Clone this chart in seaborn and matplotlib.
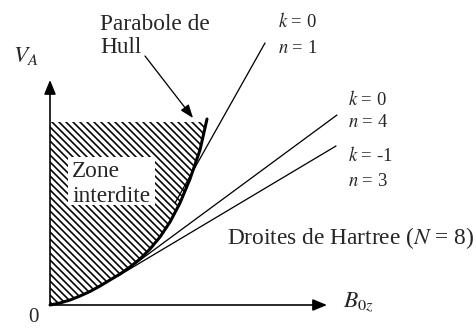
import numpy as np
import matplotlib
matplotlib.use("Agg")
import matplotlib.pyplot as plt
import seaborn as sns

# Hull parabola V_A(B_0z), arbitrary units
hull_b = [0, 10, 20, 30, 40, 50, 60, 70, 80, 90, 100, 110, 120, 130, 140, 150, 157]
hull_v = [0, 2, 5, 9, 13.5, 19, 25, 31, 38, 46, 56, 68, 83, 102, 126, 155, 186]

# Hartree lines (N = 8): start on the parabola, end at the label
hartree_k = ["0", "0", "-1"]
hartree_n = ["1", "4", "3"]
hartree_b_start = [125, 78, 68]
hartree_v_start = [102, 36, 29]
hartree_b_end = [215, 287, 286]
hartree_v_end = [262, 190, 159]

# upper edge of the forbidden zone
forbidden_top = 183
b_axis_end = 277
v_axis_end = 225

sns.set_theme(style="white")
plt.rcParams["font.family"] = ["Liberation Serif", "DejaVu Serif"]
plt.rcParams["mathtext.fontset"] = "stix"
plt.rcParams["hatch.linewidth"] = 1.4
plt.rcParams["hatch.color"] = "black"

fig = plt.figure(figsize=(476 / 84, 330 / 84), dpi=84)
ax = fig.add_axes([0, 0, 1, 1])
ax.set_xlim(-50, 426)
ax.set_ylim(-25, 305)
ax.axis("off")

# forbidden zone, hatched between the V axis and the parabola
hb = np.array(hull_b, dtype=float)
hv = np.array(hull_v, dtype=float)
b_top = np.interp(forbidden_top, hv, hb)
keep = hv < forbidden_top
zone_v = np.append(hv[keep], forbidden_top)
zone_b = np.append(hb[keep], b_top)
ax.fill_betweenx(zone_v, 0, zone_b, facecolor="none", edgecolor="black",
                 hatch="\\\\\\\\", linewidth=0, zorder=1)

# label box for the zone
ax.add_patch(plt.Rectangle((18, 100), 87, 48, facecolor="white",
                           edgecolor="none", zorder=2))
ax.text(22, 128, "Zone", fontsize=20, va="baseline", ha="left", zorder=3)
ax.text(22, 103, "interdite", fontsize=20, va="baseline", ha="left", zorder=3)

# Hull parabola
sns.lineplot(x=hull_b, y=hull_v, sort=False, color="black", linewidth=2.6,
             ax=ax, zorder=4)

# Hartree lines
for b0, v0, b1, v1 in zip(hartree_b_start, hartree_v_start,
                          hartree_b_end, hartree_v_end):
    sns.lineplot(x=[b0, b1], y=[v0, v1], sort=False, color="black",
                 linewidth=1.1, ax=ax, zorder=4)

# axes with arrow heads
axis_arrow = dict(arrowstyle="-|>,head_length=0.85,head_width=0.35",
                  color="black", lw=1.4, shrinkA=0, shrinkB=0,
                  mutation_scale=12)
ax.annotate("", xy=(0, v_axis_end), xytext=(0, 0), arrowprops=axis_arrow)
ax.annotate("", xy=(b_axis_end, 0), xytext=(0, 0), arrowprops=axis_arrow)

ax.text(-37, 243, "$V_A$", fontsize=20, va="baseline", ha="left")
ax.text(293, -2, "$B_{0z}$", fontsize=20, va="baseline", ha="left")
ax.text(-17, -12, "0", fontsize=18, va="center", ha="center")

# Hull label with pointer
ax.text(50, 275, "Parabole de", fontsize=20, va="baseline", ha="left")
ax.text(50, 252, "Hull", fontsize=20, va="baseline", ha="left")
ax.annotate("", xy=(143, 187), xytext=(95, 249),
            arrowprops=dict(arrowstyle="-|>,head_length=0.8,head_width=0.3",
                            color="black", lw=1.1, shrinkA=0, shrinkB=0,
                            mutation_scale=12))

# Hartree line labels
label_pos = [(228, 278, 252), (298, 200, 178), (298, 144, 119)]
for (lx, ky, ny), k, n in zip(label_pos, hartree_k, hartree_n):
    ax.text(lx, ky, f"$k$ = {k}", fontsize=16, va="baseline", ha="left")
    ax.text(lx, ny, f"$n$ = {n}", fontsize=16, va="baseline", ha="left")

ax.text(177, 61, "Droites de Hartree ($N$ = 8)", fontsize=20,
        va="baseline", ha="left")

fig.savefig("out.png", dpi=84)
